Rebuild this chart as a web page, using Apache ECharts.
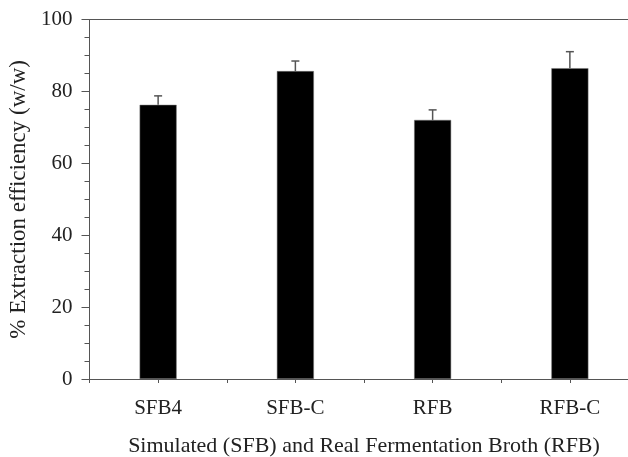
<!DOCTYPE html>
<html>
<head>
<meta charset="utf-8">
<script src="https://cdn.jsdelivr.net/npm/echarts@6/dist/echarts.min.js"></script>
<style>
    html, body { margin: 0; padding: 0; background: #fff; }
    #chart { width: 628px; height: 457px; }
</style>
</head>
<body>
<div id="chart"></div>
<script>
// 数据
var categories = ["SFB4", "SFB-C", "RFB", "RFB-C"];
var efficiency = [76.3, 85.7, 72.1, 86.5];
var errorUp = [2.5, 2.8, 2.8, 4.6];
var yTicks = [0, 20, 40, 60, 80, 100];

var serif = "Liberation Serif";

var chart = echarts.init(document.getElementById("chart"));

// 误差线 (只画上半部分)
function renderError(params, api) {
    var i = api.value(0);
    var top = api.coord([i, api.value(1) + api.value(2)]);
    var base = api.coord([i, api.value(1)]);
    var style = { stroke: "#555", lineWidth: 1.5 };
    return {
        type: "group",
        children: [
            { type: "line", shape: { x1: base[0], y1: base[1], x2: top[0], y2: top[1] }, style: style },
            { type: "line", shape: { x1: top[0] - 4, y1: top[1], x2: top[0] + 4, y2: top[1] }, style: style }
        ]
    };
}

var option = {
    animation: false,
    grid: { left: 89.5, width: 549, top: 19.7, bottom: 78, outerBoundsMode: "none", containLabel: false },
    xAxis: [
        {
            type: "category",
            data: categories,
            position: "bottom",
            name: "Simulated (SFB) and Real Fermentation Broth (RFB)",
            nameLocation: "middle",
            nameGap: 56,
            nameTextStyle: { fontFamily: serif, fontSize: 22, color: "#222" },
            axisLine: { lineStyle: { color: "#555", width: 1 } },
            axisTick: { show: true, length: 4, lineStyle: { color: "#555" } },
            axisLabel: { fontFamily: serif, fontSize: 21, color: "#222", margin: 19 }
        },
        {
            type: "category",
            data: categories,
            position: "bottom",
            axisLine: { show: false },
            axisTick: { show: true, alignWithLabel: true, length: 4, lineStyle: { color: "#555" } },
            axisLabel: { show: false }
        },
        {
            type: "category",
            data: categories,
            position: "top",
            axisLine: { show: true, lineStyle: { color: "#555", width: 1 } },
            axisTick: { show: false },
            axisLabel: { show: false }
        }
    ],
    yAxis: {
        type: "value",
        min: yTicks[0],
        max: yTicks[yTicks.length - 1],
        interval: 20,
        name: "% Extraction efficiency (w/w)",
        nameLocation: "middle",
        nameGap: 56,
        nameTextStyle: { fontFamily: serif, fontSize: 23, color: "#222" },
        axisLine: { show: true, lineStyle: { color: "#555", width: 1 } },
        axisTick: { show: true, length: 8, lineStyle: { color: "#555" } },
        minorTick: { show: true, splitNumber: 4, length: 5, lineStyle: { color: "#555" } },
        splitLine: { show: false },
        axisLabel: { fontFamily: serif, fontSize: 21, color: "#222", margin: 17 }
    },
    series: [
        {
            type: "bar",
            data: efficiency,
            barWidth: 37,
            itemStyle: { color: "#000", borderColor: "#777", borderWidth: 0.5 }
        },
        {
            type: "custom",
            renderItem: renderError,
            data: efficiency.map(function (v, i) { return [i, v, errorUp[i]]; }),
            z: 3
        }
    ]
};

chart.setOption(option);
</script>
</body>
</html>
